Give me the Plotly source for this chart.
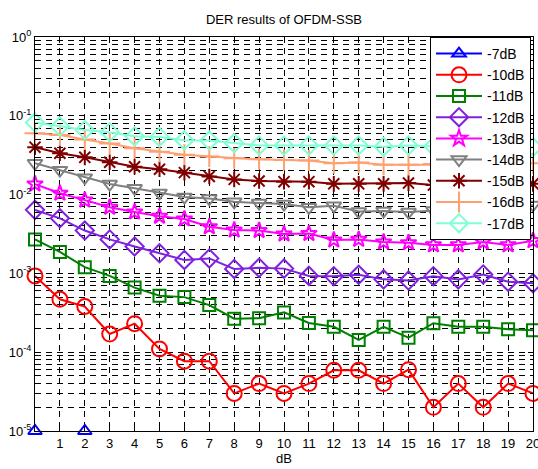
import plotly.graph_objects as go

snr_db = list(range(0, 21))
x_ticks = list(range(1, 21))

der_m7 = [1e-5, None, 1e-5] + [None] * 18
der_m10 = [9.3e-4, 4.7e-4, 3.8e-4, 1.7e-4, 2.3e-4, 1.1e-4, 7.7e-5, 7.7e-5, 3.0e-5, 4.0e-5,
           3.0e-5, 4.0e-5, 5.9e-5, 5.9e-5, 4.0e-5, 6.0e-5, 2.0e-5, 4.0e-5, 2.0e-5, 4.0e-5, 3.0e-5]
der_m11 = [2.7e-3, 1.87e-3, 1.2e-3, 9.3e-4, 6.6e-4, 5.2e-4, 5.0e-4, 3.96e-4, 2.66e-4, 2.7e-4,
           3.2e-4, 2.35e-4, 2.1e-4, 1.43e-4, 2.1e-4, 1.53e-4, 2.33e-4, 2.1e-4, 2.1e-4, 1.95e-4, 1.9e-4]
der_m12 = [6.4e-3, 5.0e-3, 3.5e-3, 2.7e-3, 2.2e-3, 1.8e-3, 1.48e-3, 1.55e-3, 1.14e-3, 1.18e-3,
           1.15e-3, 9.3e-4, 9.2e-4, 9.6e-4, 8.4e-4, 8.1e-4, 9.2e-4, 8.4e-4, 9.7e-4, 7.85e-4, 7.5e-4]
der_m13 = [1.36e-2, 1.04e-2, 8.5e-3, 6.9e-3, 6.0e-3, 5.3e-3, 4.9e-3, 3.9e-3, 3.55e-3, 3.5e-3,
           3.16e-3, 3.2e-3, 2.65e-3, 2.7e-3, 2.5e-3, 2.45e-3, 2.3e-3, 2.3e-3, 2.5e-3, 2.3e-3, 2.6e-3]
der_m14 = [2.5e-2, 2.04e-2, 1.64e-2, 1.36e-2, 1.2e-2, 1.05e-2, 9.3e-3, 8.9e-3, 8.1e-3, 7.8e-3,
           7.6e-3, 6.9e-3, 7.2e-3, 6.1e-3, 6.2e-3, 6.0e-3, 6.3e-3, 6.5e-3, 6.2e-3, 6.6e-3, 7.4e-3]
der_m15 = [4.0e-2, 3.35e-2, 2.97e-2, 2.57e-2, 2.26e-2, 2.1e-2, 1.9e-2, 1.7e-2, 1.56e-2, 1.49e-2,
           1.46e-2, 1.46e-2, 1.37e-2, 1.37e-2, 1.37e-2, 1.4e-2, 1.32e-2, 1.36e-2, 1.38e-2, 1.35e-2, 1.37e-2]
der_m16 = [6.0e-2, 5.7e-2, 5.0e-2, 4.45e-2, 3.87e-2, 3.5e-2, 3.2e-2, 3.05e-2, 2.9e-2, 2.8e-2,
           2.75e-2, 2.7e-2, 2.5e-2, 2.55e-2, 2.4e-2, 2.4e-2, 2.45e-2, 2.4e-2, 2.5e-2, 2.45e-2, 2.5e-2]
der_m17 = [8.2e-2, 7.3e-2, 6.6e-2, 6.2e-2, 5.5e-2, 5.4e-2, 4.9e-2, 4.85e-2, 4.5e-2, 4.2e-2,
           4.2e-2, 4.2e-2, 4.2e-2, 4.2e-2, 4.05e-2, 4.2e-2, 4.1e-2, 4.0e-2, 4.1e-2, 4.05e-2, 4.0e-2]

series_names = ["-7dB", "-10dB", "-11dB", "-12dB", "-13dB", "-14dB", "-15dB", "-16dB", "-17dB"]
series_vals = [der_m7, der_m10, der_m11, der_m12, der_m13, der_m14, der_m15, der_m16, der_m17]
colors = ["#0000FF", "#FF0000", "#008000", "#8020E0", "#FF00FF", "#808080", "#800000", "#FFA070", "#7FFFD4"]
symbols = ["triangle-up-open", "circle-open", "square-open", "diamond-open", "star-open",
           "triangle-down-open", "asterisk-open", "cross-thin-open", "diamond-open"]
sizes = [12, 15, 12, 14, 12, 13, 13, 15, 14]

y_major = [1e-5, 1e-4, 1e-3, 1e-2, 1e-1, 1]
y_major_text = ["10<sup>-5</sup>", "10<sup>-4</sup>", "10<sup>-3</sup>", "10<sup>-2</sup>",
                "10<sup>-1</sup>", "10<sup>0</sup>"]
y_minor = [k * 10.0 ** p for p in range(-5, 0) for k in range(2, 10)]

fig = go.Figure()
for name, vals, c, s, sz in zip(series_names, series_vals, colors, symbols, sizes):
    fig.add_trace(go.Scatter(
        x=snr_db, y=vals, name=name, mode="lines+markers",
        line=dict(color=c, width=2),
        marker=dict(symbol=s, size=sz, color=c, line=dict(color=c, width=2)),
        cliponaxis=False,
    ))

font = "Liberation Sans, Arial, sans-serif"
fig.update_layout(
    width=538, height=469,
    margin=dict(l=35, r=5, t=37, b=38),
    paper_bgcolor="white", plot_bgcolor="white",
    font=dict(family=font, size=13, color="black"),
    title=dict(text="DER results of OFDM-SSB", x=0.5, xref="paper", xanchor="center",
               y=1 - 19 / 469, yref="container", yanchor="middle",
               font=dict(family=font, size=13, color="black")),
    showlegend=True,
    legend=dict(x=0.996, xanchor="right", y=1, yanchor="top",
                bordercolor="black", borderwidth=1, bgcolor="white",
                font=dict(family=font, size=14, color="black"),
                tracegroupgap=0, itemwidth=46),
)
grid_dash = "6px,5px"
fig.update_xaxes(
    range=[0, 20], tickmode="array", tickvals=x_ticks, automargin=False,
    showgrid=True, gridcolor="black", gridwidth=1, griddash=grid_dash,
    showline=True, linecolor="black", linewidth=1, mirror="ticks",
    ticks="inside", ticklen=5, tickcolor="black", zeroline=False,
    ticklabeloverflow="allow",
    title=dict(text="dB", standoff=0, font=dict(family=font, size=13)),
    tickfont=dict(family=font, size=13),
)
fig.update_yaxes(
    type="log", range=[-5, 0], tickmode="array", tickvals=y_major, ticktext=y_major_text,
    automargin=False,
    showgrid=True, gridcolor="black", gridwidth=1, griddash=grid_dash,
    showline=True, linecolor="black", linewidth=1, mirror="ticks",
    ticks="inside", ticklen=5, tickcolor="black", zeroline=False,
    tickfont=dict(family=font, size=13),
    minor=dict(tickmode="array", tickvals=y_minor, showgrid=True, gridcolor="black",
               gridwidth=1, griddash=grid_dash, ticks="inside", ticklen=3, tickcolor="black"),
)

fig.write_html("out.html", config={"displayModeBar": False},
               post_script="document.body.style.margin='0';document.body.style.overflow='hidden';")
